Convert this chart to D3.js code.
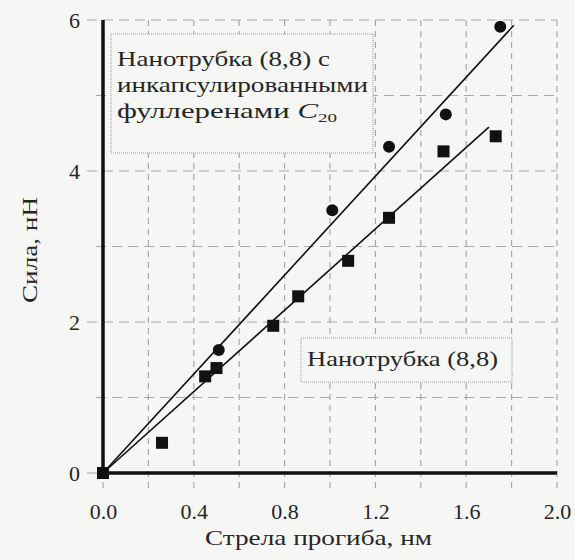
<!DOCTYPE html>
<html><head><meta charset="utf-8">
<script src="https://cdn.jsdelivr.net/npm/d3@7"></script>
<style>body{margin:0;background:#f6f6f4}svg{display:block}</style>
</head><body><svg id="c" width="575" height="560"></svg>
<script>
// data
const xTicks = [0.0, 0.4, 0.8, 1.2, 1.6, 2.0];
const xTickLabels = ["0.0", "0.4", "0.8", "1.2", "1.6", "2.0"];
const yTicks = [0, 2, 4, 6];
const yTickLabels = ["0", "2", "4", "6"];
const xGrid = [0.0, 0.2, 0.4, 0.6, 0.8, 1.0, 1.2, 1.4, 1.6, 1.8, 2.0];
const yGrid = [0, 1, 2, 3, 4, 5, 6];
const circX = [0.51, 1.01, 1.26, 1.51, 1.75];
const circY = [1.63, 3.48, 4.32, 4.75, 5.91];
const sqX = [0.00, 0.26, 0.45, 0.50, 0.75, 0.86, 1.08, 1.26, 1.50, 1.73];
const sqY = [0.00, 0.40, 1.28, 1.39, 1.95, 2.34, 2.81, 3.38, 4.26, 4.46];
const fitCircX = [0, 1.81], fitCircY = [0, 5.93];
const fitSqX = [0, 1.70], fitSqY = [0, 4.58];
const legend1 = ["Нанотрубка (8,8) с", "инкапсулированными", "фуллеренами "];
const legend2 = "Нанотрубка (8,8)";
const xLabel = "Стрела прогиба,  нм";
const yLabel = "Сила,  нН";

const svg = d3.select("#c");
const W = 575, H = 560;
const m = {l: 103, r: 18, t: 20, b: 87};
const x = d3.scaleLinear().domain([0, 2]).range([m.l, W - m.r]);
const y = d3.scaleLinear().domain([0, 6]).range([H - m.b, m.t]);
const font = "'Liberation Serif', serif";
const bg = "#f6f6f4";
const ink = "#262626";
const gridCol = "#a8a8a8";
const fs = 21;

svg.append("rect").attr("width", W).attr("height", H).attr("fill", bg);

// grid
const g = svg.append("g");
g.selectAll(".vg").data(xGrid).join("line")
  .attr("x1", d => x(d)).attr("x2", d => x(d))
  .attr("y1", y(6)).attr("y2", y(0) + 15)
  .attr("stroke", gridCol).attr("stroke-width", 1.2).attr("stroke-dasharray", "6,5");
g.selectAll(".hg").data(yGrid).join("line")
  .attr("x1", d => x(0) - (yTicks.includes(d) ? 16 : 7)).attr("x2", x(2))
  .attr("y1", d => y(d)).attr("y2", d => y(d))
  .attr("stroke", gridCol).attr("stroke-width", 1.2).attr("stroke-dasharray", "10,6");

// legend box 1
const b1 = svg.append("g");
b1.append("rect").attr("x", 111).attr("y", 34).attr("width", 262).attr("height", 119)
  .attr("fill", bg).attr("stroke", "#999").attr("stroke-width", 1).attr("stroke-dasharray", "1,1");
const widths1 = [213, 251, 220];
legend1.forEach((s, i) => {
  const t = b1.append("text").attr("x", 117).attr("y", 66 + i * 26)
    .attr("font-family", font).attr("font-size", fs).attr("fill", ink)
    .attr("textLength", widths1[i]).attr("lengthAdjust", "spacingAndGlyphs");
  t.append("tspan").text(s);
  if (i === 2) {
    t.append("tspan").attr("font-style", "italic").text("C");
    t.append("tspan").attr("font-size", 13).attr("dy", 4).text("20");
  }
});

// legend box 2
const b2 = svg.append("g");
b2.append("rect").attr("x", 301).attr("y", 338).attr("width", 211).attr("height", 44)
  .attr("fill", bg).attr("stroke", "#999").attr("stroke-width", 1).attr("stroke-dasharray", "1,1");
b2.append("text").attr("x", 307).attr("y", 366).attr("font-family", font).attr("font-size", fs)
  .attr("fill", ink).attr("textLength", 191).attr("lengthAdjust", "spacingAndGlyphs").text(legend2);

// axes
const xAxis = d3.axisBottom(x).tickValues(xTicks).tickFormat((d, i) => xTickLabels[i]).tickSize(0).tickPadding(30);
const yAxis = d3.axisLeft(y).tickValues(yTicks).tickFormat((d, i) => yTickLabels[i]).tickSize(0).tickPadding(23);
const ax = svg.append("g").attr("transform", `translate(0,${y(0)})`).call(xAxis);
const ay = svg.append("g").attr("transform", `translate(${x(0)},0)`).call(yAxis);
[ax, ay].forEach(a => {
  a.select(".domain").attr("stroke", "#111").attr("stroke-width", 3.5);
  a.selectAll("text").attr("font-family", font).attr("font-size", 22).attr("fill", ink);
});
ay.select(".domain").attr("d", `M0,${y(0) + 1.7}V${y(6)}`);
ax.select(".domain").attr("d", `M${x(0)},0H${x(2)}`);

// fit lines
const line = d3.line().x(d => x(d[0])).y(d => y(d[1]));
svg.append("path").attr("d", line(d3.zip(fitCircX, fitCircY))).attr("stroke", "#111").attr("stroke-width", 1.6).attr("fill", "none");
svg.append("path").attr("d", line(d3.zip(fitSqX, fitSqY))).attr("stroke", "#111").attr("stroke-width", 1.6).attr("fill", "none");

// markers
svg.selectAll(".c").data(d3.zip(circX, circY)).join("circle")
  .attr("cx", d => x(d[0])).attr("cy", d => y(d[1])).attr("r", 6).attr("fill", "#111");
const s = 12;
svg.selectAll(".s").data(d3.zip(sqX, sqY)).join("rect")
  .attr("x", d => x(d[0]) - s / 2).attr("y", d => y(d[1]) - s / 2).attr("width", s).attr("height", s).attr("fill", "#111");

// axis labels
svg.append("text").attr("x", 205).attr("y", 545)
  .attr("font-family", font).attr("font-size", fs).attr("fill", ink)
  .attr("textLength", 227).attr("lengthAdjust", "spacingAndGlyphs").text(xLabel);
svg.append("text").attr("transform", "translate(37,303) rotate(-90)")
  .attr("font-family", font).attr("font-size", fs).attr("fill", ink)
  .attr("textLength", 106).attr("lengthAdjust", "spacingAndGlyphs").text(yLabel);
</script></body></html>
